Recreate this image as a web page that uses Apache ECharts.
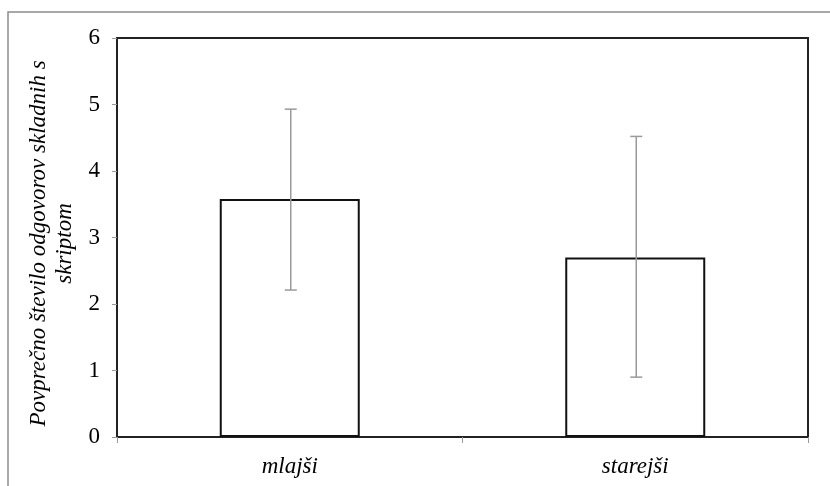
<!DOCTYPE html>
<html><head><meta charset="utf-8">
<script src="https://cdn.jsdelivr.net/npm/echarts@6/dist/echarts.min.js"></script>
<style>html,body{margin:0;padding:0;background:#fff}#c{width:830px;height:486px}</style>
</head><body><div id="c"></div>
<script>
var categories = ['mlajši', 'starejši'];
var means = [3.58, 2.70];
var errLow = [2.21, 0.90];
var errHigh = [4.93, 4.52];
var yTicks = [0, 1, 2, 3, 4, 5, 6];

var chart = echarts.init(document.getElementById('c'));
var font = 'Liberation Serif, Times New Roman, serif';
chart.setOption({
  animation: false,
  backgroundColor: '#fff',
  graphic: [{
    type: 'rect', shape: {x: 8, y: 12, width: 840, height: 500},
    style: {fill: 'none', stroke: '#8c8c8c', lineWidth: 1.5}
  }],
  grid: {left: 117, right: 22, top: 38, bottom: 49, show: true, borderColor: '#222', borderWidth: 2, backgroundColor: 'transparent', containLabel: false, outerBoundsMode: 'none'},
  xAxis: {
    type: 'category', data: categories,
    axisLine: {show: false},
    axisTick: {show: true, length: 6, lineStyle: {color: '#999'}},
    axisLabel: {fontFamily: font, fontStyle: 'italic', fontSize: 23, color: '#000', margin: 18}
  },
  yAxis: {
    type: 'value', min: yTicks[0], max: yTicks[yTicks.length - 1], interval: 1,
    splitLine: {show: false},
    axisLine: {show: false},
    axisTick: {show: true, length: 5, lineStyle: {color: '#999'}},
    axisLabel: {fontFamily: font, fontSize: 23, color: '#000', margin: 17},
    name: 'Povprečno število odgovorov skladnih s\nskriptom',
    nameLocation: 'middle', nameRotate: 90, nameGap: 34,
    nameTextStyle: {fontFamily: font, fontStyle: 'italic', fontSize: 23, color: '#000', lineHeight: 26, padding: [0, 12, 0, 0]}
  },
  series: [{
    type: 'bar', data: means, barWidth: 140,
    itemStyle: {color: '#fff', borderColor: '#111', borderWidth: 2}
  }, {
    type: 'custom',
    data: categories.map(function (c, i) { return [i, errLow[i], errHigh[i]]; }),
    z: 5,
    renderItem: function (params, api) {
      var lo = api.coord([api.value(0), api.value(1)]);
      var hi = api.coord([api.value(0), api.value(2)]);
      var x = lo[0] + 1, hw = 6;
      var st = {stroke: '#9a9a9a', lineWidth: 1.5};
      return {type: 'group', children: [
        {type: 'line', shape: {x1: x, y1: lo[1], x2: x, y2: hi[1]}, style: st},
        {type: 'line', shape: {x1: x - hw, y1: lo[1], x2: x + hw, y2: lo[1]}, style: st},
        {type: 'line', shape: {x1: x - hw, y1: hi[1], x2: x + hw, y2: hi[1]}, style: st}
      ]};
    }
  }]
});
</script></body></html>
